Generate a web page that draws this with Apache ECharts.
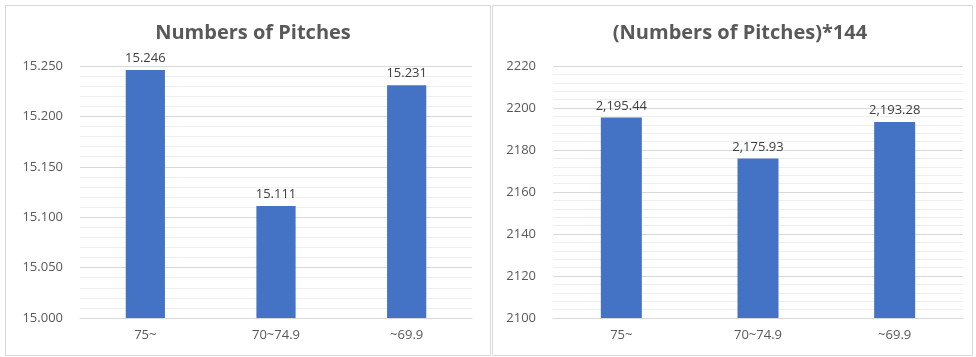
<!DOCTYPE html>
<html>
<head>
<meta charset="utf-8">
<script src="https://cdn.jsdelivr.net/npm/echarts@6/dist/echarts.min.js"></script>
<style>
  html, body { margin: 0; padding: 0; background: #fff; }
  #main { width: 976px; height: 357px; }
</style>
</head>
<body>
<div id="main"></div>
<script>
  var categories = ['75~', '70~74.9', '~69.9'];
  var pitches = [15.246, 15.111, 15.231];
  var pitches144 = [2195.44, 2175.93, 2193.28];
  var leftTitle = 'Numbers of Pitches';
  var rightTitle = '(Numbers of Pitches)*144';

  var chart = echarts.init(document.getElementById('main'));
  var font = '"Open Sans", "Liberation Sans", sans-serif';

  function fmtThousands(v) {
    var parts = v.toFixed(2).split('.');
    return parts[0].replace(/\B(?=(\d{3})+(?!\d))/g, ',') + '.' + parts[1];
  }

  function yAxis(idx, min, max, interval, fmt) {
    return {
      type: 'value', gridIndex: idx, min: min, max: max, interval: interval,
      axisLine: { show: false }, axisTick: { show: false },
      axisLabel: { color: '#595959', fontSize: 13, fontFamily: font, margin: 17, formatter: fmt },
      splitLine: { lineStyle: { color: '#d9d9d9', width: 1 } },
      minorTick: { show: false, splitNumber: 5 },
      minorSplitLine: { show: true, lineStyle: { color: '#eeeeee', width: 1 } }
    };
  }

  function xAxis(idx) {
    return {
      type: 'category', gridIndex: idx, data: categories,
      axisLine: { lineStyle: { color: '#d9d9d9' } }, axisTick: { show: false },
      axisLabel: { color: '#595959', fontSize: 13, fontFamily: font, margin: 11 }
    };
  }

  function barSeries(idx, data, fmt) {
    return {
      type: 'bar', xAxisIndex: idx, yAxisIndex: idx, data: data,
      barWidth: '30%',
      itemStyle: { color: '#4472C4' },
      label: {
        show: true, position: 'top', distance: 5,
        color: '#404040', fontSize: 13, fontFamily: font,
        formatter: function (p) { return fmt(p.value); }
      }
    };
  }

  var option = {
    backgroundColor: '#fff',
    animation: false,
    title: [
      { text: leftTitle, left: 248, top: 18, textAlign: 'center',
        textStyle: { color: '#595959', fontSize: 20, fontWeight: 'bold', fontFamily: font } },
      { text: rightTitle, left: 735, top: 18, textAlign: 'center',
        textStyle: { color: '#595959', fontSize: 20, fontWeight: 'bold', fontFamily: font } }
    ],
    graphic: [
      { type: 'rect', shape: { x: 5.5, y: 5.5, width: 485, height: 350 },
        style: { fill: 'none', stroke: '#d9d9d9', lineWidth: 1 } },
      { type: 'rect', shape: { x: 492.5, y: 5.5, width: 480, height: 350 },
        style: { fill: 'none', stroke: '#d9d9d9', lineWidth: 1 } }
    ],
    grid: [
      { left: 80, right: 504, top: 66, bottom: 39 },
      { left: 553, right: 13, top: 66, bottom: 39 }
    ],
    xAxis: [xAxis(0), xAxis(1)],
    yAxis: [
      yAxis(0, 15, 15.25, 0.05, function (v) { return v.toFixed(3); }),
      yAxis(1, 2100, 2220, 20, function (v) { return String(v); })
    ],
    series: [
      barSeries(0, pitches, function (v) { return v.toFixed(3); }),
      barSeries(1, pitches144, fmtThousands)
    ]
  };
  chart.setOption(option);
</script>
</body>
</html>
